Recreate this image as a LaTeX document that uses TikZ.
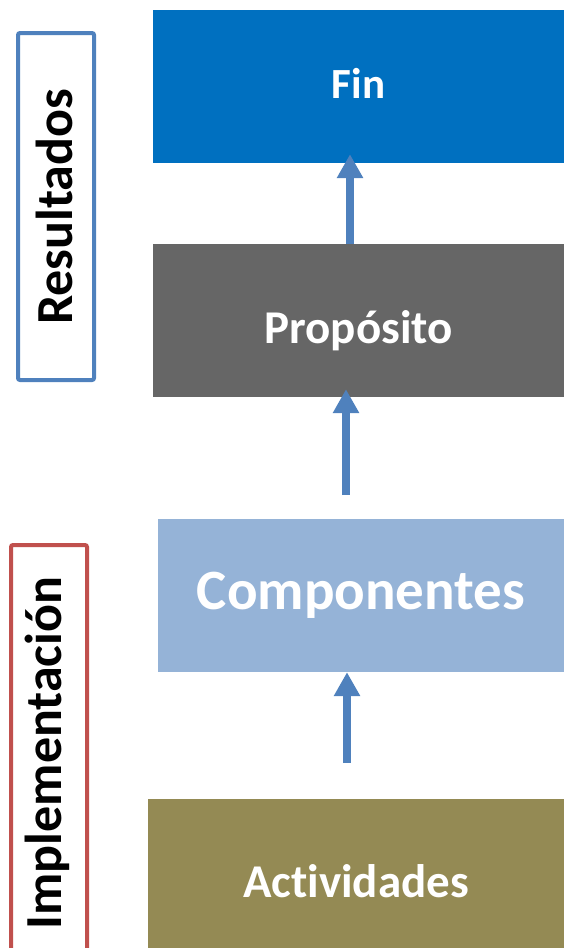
\documentclass[tikz,border=0pt]{standalone}
\usepackage{fontspec}
\setmainfont{Carlito}[Ligatures=NoCommon]
\usetikzlibrary{arrows.meta}
\definecolor{finblue}{RGB}{0,112,192}
\definecolor{propgray}{RGB}{102,102,102}
\definecolor{compblue}{RGB}{149,179,215}
\definecolor{actolive}{RGB}{148,138,84}
\definecolor{resblue}{RGB}{79,129,189}
\definecolor{impred}{RGB}{192,80,77}

\begin{document}
\begin{tikzpicture}[x=1pt,y=-1pt,
    level/.style={inner sep=0pt,text=white,text depth=0pt,font=\bfseries},
    side/.style={line width=4pt,rounded corners=2pt,fill=white},
    uparrow/.style={draw=resblue,line width=8pt,-{Triangle[length=24pt,width=25pt]}}]
            \useasboundingbox (0,0) rectangle (564,948);
            \node[level,fill=finblue,minimum width=411pt,minimum height=153pt,text height=23pt,font=\bfseries\fontsize{43}{43}\selectfont] (fin) at (358.5,86.5) {Fin};
            \node[level,fill=propgray,minimum width=411pt,minimum height=153pt,text height=45pt,font=\bfseries\fontsize{47}{47}\selectfont] (prop) at (358.5,320.5) {Propósito};
            \node[level,fill=compblue,minimum width=406pt,minimum height=153pt,text height=27pt,font=\bfseries\fontsize{57}{57}\selectfont] (comp) at (361,595.5) {Componentes};
            \node[level,fill=actolive,minimum width=416pt,minimum height=149pt,text height=47pt,font=\bfseries\fontsize{47}{47}\selectfont] (act) at (356,873.5) {Actividades};
            \coordinate (a2) at (346,495);
            \coordinate (a3) at (347,763);
            \draw[uparrow] (prop.north -| 350,0) -- ([yshift=9pt]fin.south -| 350,0);
            \draw[uparrow] (a2) -- ([yshift=8pt]prop.south -| a2);
            \draw[uparrow] (a3) -- (comp.south -| a3);
            \draw[side,draw=resblue] (18,33) rectangle (94,380);
            \node[rotate=90,font=\bfseries\fontsize{52}{52}\selectfont] (res) at (54,207) {Resultados};
            \draw[side,draw=impred] (11,545) rectangle (87,952);
            \node[rotate=90,font=\bfseries\fontsize{52}{52}\selectfont] (imp) at (47,753) {Implementación};
        \end{tikzpicture}
\end{document}
